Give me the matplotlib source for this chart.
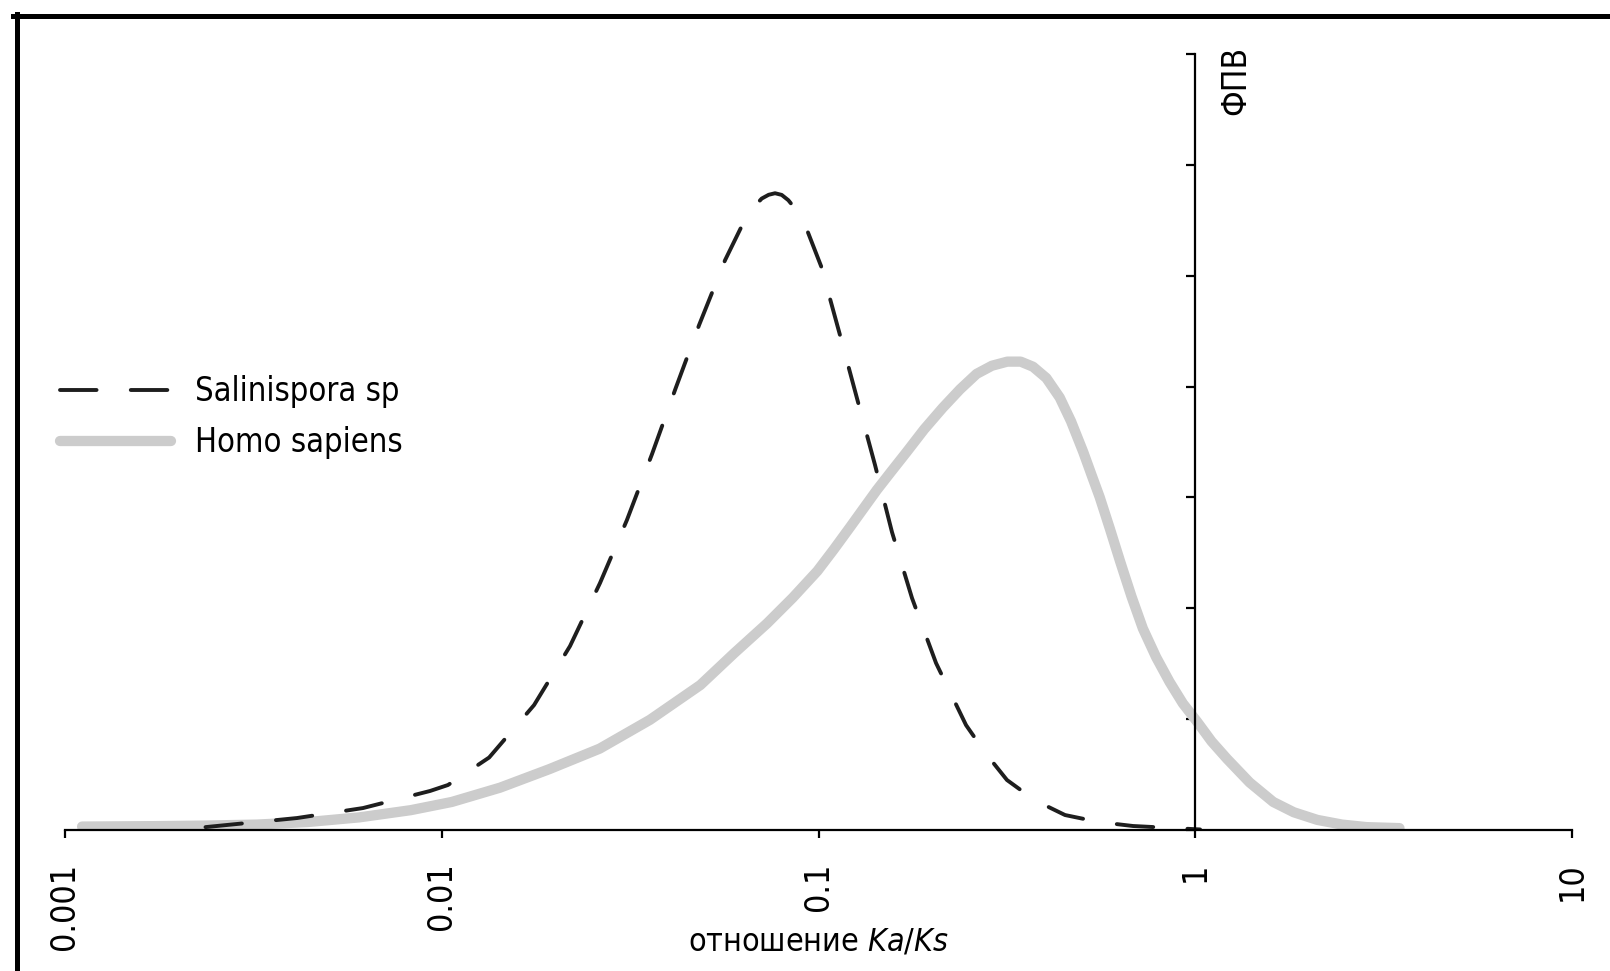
import numpy as np
import matplotlib
matplotlib.use("Agg")
import matplotlib.pyplot as plt
import matplotlib.font_manager as fm
from matplotlib.lines import Line2D

# the original uses a condensed sans face; take a condensed one if it is installed
names = {f.name for f in fm.fontManager.ttflist}
condensed = any('DejaVuSansCondensed' in f.fname for f in fm.fontManager.ttflist)
if 'Liberation Sans Narrow' in names:
    base = 'Liberation Sans Narrow'
    plt.rcParams['font.family'] = [base, 'DejaVu Sans']
    plt.rcParams['mathtext.it'] = base + ':italic'
elif condensed:
    base = 'DejaVu Sans'
    plt.rcParams['font.family'] = [base]
    plt.rcParams['font.stretch'] = 'condensed'
    plt.rcParams['mathtext.it'] = 'DejaVu Sans:style=italic:stretch=condensed'
else:
    base = 'Liberation Sans'
    plt.rcParams['font.family'] = [base, 'DejaVu Sans']
    plt.rcParams['mathtext.it'] = base + ':italic'
plt.rcParams['mathtext.fontset'] = 'custom'

# values (x = Ka/Ks ratio, y = density in tick units)
salinispora_x = [0.00236, 0.00413, 0.00618, 0.00931, 0.01039, 0.01336, 0.01758,
                 0.0219, 0.0263, 0.0310, 0.03616, 0.04176, 0.04819, 0.05649,
                 0.06501, 0.07068, 0.07373, 0.07668, 0.07986, 0.08317, 0.09044,
                 0.1016, 0.1140, 0.1265, 0.1413, 0.1567, 0.1771, 0.2051, 0.2464,
                 0.2780, 0.3164, 0.3756, 0.4512, 0.5544, 0.6837, 1.03]
salinispora_y = [0.026, 0.108, 0.198, 0.352, 0.406, 0.654, 1.127,
                 1.659, 2.227, 2.795, 3.392, 3.984, 4.554, 5.140,
                 5.564, 5.696, 5.730, 5.744, 5.729, 5.681, 5.528,
                 5.086, 4.466, 3.895, 3.291, 2.687, 2.092, 1.506, 0.946,
                 0.690, 0.451, 0.267, 0.135, 0.072, 0.036, 0.005]

homo_x = [0.00111, 0.001723, 0.002359, 0.003228, 0.004417, 0.006045, 0.008275,
          0.010634, 0.014284, 0.0193, 0.026252, 0.035703, 0.04858, 0.05973,
          0.07304, 0.08543, 0.09931, 0.1098, 0.1214, 0.1317, 0.1429, 0.156,
          0.1714, 0.1907, 0.2136, 0.2375, 0.2627, 0.2886, 0.3171, 0.344,
          0.371, 0.4025, 0.4368, 0.4679, 0.5043, 0.5302, 0.5576, 0.5937,
          0.6323, 0.6775, 0.726, 0.7876, 0.8547, 0.927, 1.0123, 1.105,
          1.2143, 1.394, 1.6106, 1.826, 2.1095, 2.4527, 2.851, 3.4845]
homo_y = [0.031, 0.035, 0.040, 0.049, 0.072, 0.114, 0.179,
          0.253, 0.382, 0.549, 0.734, 0.994, 1.308, 1.595,
          1.864, 2.095, 2.336, 2.531, 2.734, 2.901, 3.068, 3.234,
          3.410, 3.614, 3.808, 3.975, 4.114, 4.188, 4.225, 4.225,
          4.179, 4.077, 3.901, 3.688, 3.410, 3.206, 3.003, 2.716,
          2.419, 2.105, 1.818, 1.558, 1.336, 1.142, 0.975, 0.799,
          0.642, 0.429, 0.253, 0.160, 0.091, 0.049, 0.026, 0.017]

xticks = [0.001, 0.01, 0.1, 1, 10]
xticklabels = ['0.001', '0.01', '0.1', '1', '10']
yticks = [0, 1, 2, 3, 4, 5, 6, 7]

fig = plt.figure(figsize=(16.1, 9.71), dpi=100)
ax = fig.add_axes([65 / 1610, 1 - 830 / 971, (1572 - 65) / 1610, (830 - 54) / 971])

ax.plot(homo_x, homo_y, color='#cccccc', lw=7.4, solid_capstyle='round',
        solid_joinstyle='round', label='Homo sapiens', zorder=2)
ax.plot(salinispora_x, salinispora_y, color='#1e1e1e', lw=2.8,
        linestyle=(0, (9.4, 8.8)), dash_capstyle='round', dash_joinstyle='round',
        label='Salinispora sp', zorder=3)

ax.set_xscale('log')
ax.set_xlim(0.001, 10)
ax.set_ylim(0, 7)

for side in ['top', 'right']:
    ax.spines[side].set_visible(False)
ax.spines['left'].set_position(('data', 1))
ax.spines['left'].set_bounds(0, 7)
ax.spines['left'].set_linewidth(1.6)
ax.spines['bottom'].set_linewidth(1.6)
ax.spines['left'].set_zorder(4)
ax.spines['bottom'].set_zorder(4)

ax.set_xticks(xticks)
ax.set_xticklabels(xticklabels, rotation=90)
ax.xaxis.set_minor_locator(matplotlib.ticker.NullLocator())
ax.tick_params(axis='x', direction='out', length=6, width=1.6, pad=17.5, labelsize=24.5)
ax.set_yticks(yticks)
ax.set_yticklabels([])
ax.tick_params(axis='y', direction='out', length=6.5, width=1.6)

ax.set_xlabel('отношение $Ka/Ks$', fontsize=23)
ax.xaxis.set_label_coords(0.5, -0.124)

ax.annotate('ФПВ', xy=(1, 7), xytext=(29, 5.5), textcoords='offset points',
            rotation=90, ha='center', va='top', fontsize=24)

handles, labels = ax.get_legend_handles_labels()
ax.legend(handles[::-1], labels[::-1], loc='upper left',
          bbox_to_anchor=(60 / 1610, 1 - 375 / 971), bbox_transform=fig.transFigure,
          frameon=False, fontsize=23.5, handlelength=3.4, handletextpad=0.75,
          labelspacing=0.55, borderpad=0, borderaxespad=0)

# picture frame on top and left edges
fig.add_artist(Line2D([13 / 1610, 1], [1 - 16.5 / 971, 1 - 16.5 / 971],
                      transform=fig.transFigure, color='black', lw=3.6))
fig.add_artist(Line2D([16.5 / 1610, 16.5 / 1610], [0, 1 - 14 / 971],
                      transform=fig.transFigure, color='black', lw=3.6))

fig.savefig('out.png', dpi=100)
